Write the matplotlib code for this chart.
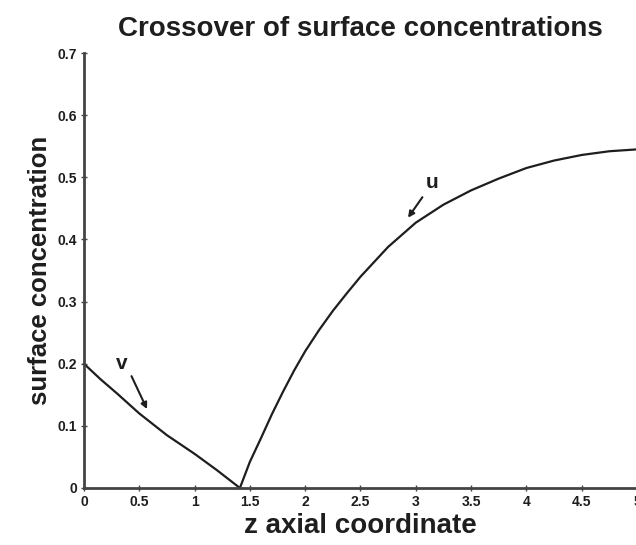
import matplotlib.pyplot as plt

# Values
v_z = [0.0, 0.15, 0.3, 0.5, 0.75, 1.0, 1.2, 1.41]
v_conc = [0.2, 0.175, 0.152, 0.12, 0.085, 0.055, 0.029, 0.0]

u_z = [1.41, 1.5, 1.6, 1.7, 1.8, 1.9, 2.0, 2.125, 2.25, 2.375, 2.5, 2.75, 3.0, 3.25, 3.5, 3.75, 4.0, 4.25, 4.5, 4.75, 5.0]
u_conc = [0.0, 0.042, 0.08, 0.119, 0.155, 0.189, 0.22, 0.254, 0.285, 0.313, 0.34, 0.388, 0.427, 0.456, 0.479, 0.498, 0.515, 0.527, 0.536, 0.542, 0.545]

x_ticks = [0, 0.5, 1, 1.5, 2, 2.5, 3, 3.5, 4, 4.5, 5]
x_labels = ['0', '0.5', '1', '1.5', '2', '2.5', '3', '3.5', '4', '4.5', '5']
y_ticks = [0, 0.1, 0.2, 0.3, 0.4, 0.5, 0.6, 0.7]
y_labels = ['0', '0.1', '0.2', '0.3', '0.4', '0.5', '0.6', '0.7']

ink = '#1e1e1e'
plt.rcParams['font.family'] = ['Liberation Sans', 'DejaVu Sans']

fig = plt.figure(figsize=(6.36, 5.45), dpi=100)
ax = fig.add_axes([0.132, 0.1046, 0.8695, 0.798])

ax.plot(v_z, v_conc, color=ink, lw=1.6, clip_on=False)
ax.plot(u_z, u_conc, color=ink, lw=1.6, clip_on=False)

# curve labels with little arrows
arrow = dict(arrowstyle='-|>', color=ink, lw=1.5, mutation_scale=9, shrinkA=0, shrinkB=0)
ax.annotate('', xy=(0.57, 0.127), xytext=(0.43, 0.18), arrowprops=arrow)
ax.text(0.34, 0.2, 'v', fontsize=15, fontweight='bold', color=ink, ha='center', va='center')
ax.annotate('', xy=(2.93, 0.435), xytext=(3.06, 0.468), arrowprops=arrow)
ax.text(3.15, 0.492, 'u', fontsize=15, fontweight='bold', color=ink, ha='center', va='center')

ax.set_xlim(0, 5)
ax.set_ylim(0, 0.7)
ax.set_xticks(x_ticks)
ax.set_xticklabels(x_labels)
ax.set_yticks(y_ticks)
ax.set_yticklabels(y_labels)

for side in ['top', 'right']:
    ax.spines[side].set_visible(False)
for side in ['left', 'bottom']:
    ax.spines[side].set_color('#444444')
    ax.spines[side].set_linewidth(2)

ax.tick_params(axis='both', direction='inout', length=4, width=1, colors='#444444',
               labelsize=10, labelcolor=ink, pad=3)
for lab in ax.get_xticklabels() + ax.get_yticklabels():
    lab.set_fontweight('bold')

ax.set_title('Crossover of surface concentrations', fontsize=20, fontweight='bold',
             color=ink, pad=12)
ax.set_xlabel('z axial coordinate', fontsize=20, fontweight='bold', color=ink, labelpad=3)
ax.set_ylabel('surface concentration', fontsize=18.5, fontweight='bold', color=ink, labelpad=4)

fig.savefig('out.png', dpi=100)
